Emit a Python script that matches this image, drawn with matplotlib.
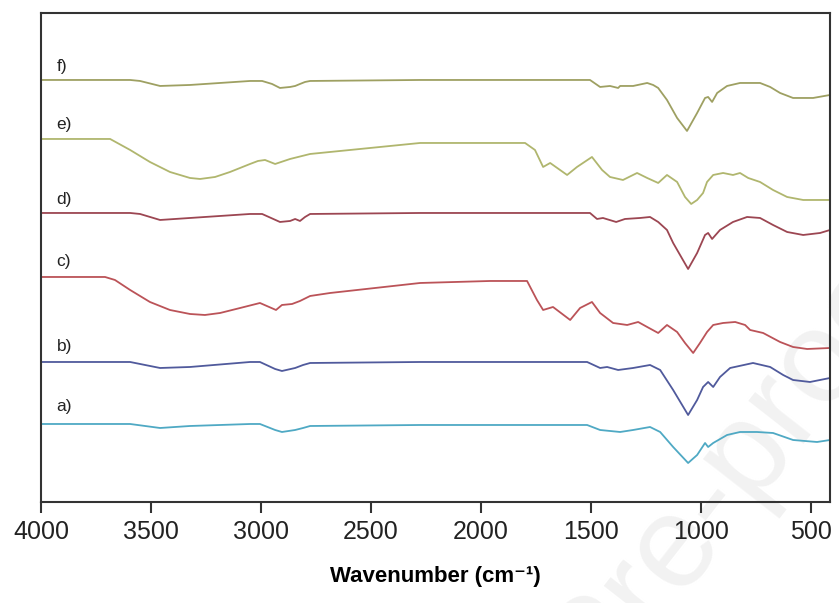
import numpy as np
import matplotlib.pyplot as plt

plt.rcParams['font.family'] = ['Liberation Sans', 'DejaVu Sans']

# offset FTIR spectra (arbitrary units)
wn_a = [4000, 3595, 3459, 3323, 3050, 3005, 2936, 2905, 2845, 2809, 2777, 2277, 1518, 1459, 1368,
        1309, 1232, 1186, 1127, 1059, 1018, 982, 968, 945, 882, 823, 746, 673, 582, 473, 414]
t_a = [78, 78, 74, 76, 78, 78, 72, 70, 72, 74, 76, 77, 77, 72, 70,
       72, 75, 70, 55, 39, 47, 59, 55, 59, 67, 70, 70, 69, 62, 60, 62]

wn_b = [4000, 3595, 3459, 3323, 3050, 3005, 2936, 2905, 2845, 2809, 2777, 2277, 1518, 1459, 1427, 1377,
        1309, 1232, 1186, 1127, 1059, 1018, 991, 968, 945, 914, 868, 764, 686, 627, 582, 505, 414]
t_b = [140, 140, 134, 135, 140, 140, 133, 131, 134, 137, 139, 140, 140, 134, 135, 132,
       134, 137, 132, 112, 87, 102, 115, 120, 115, 125, 134, 139, 135, 127, 122, 120, 124]

wn_c = [4000, 3709, 3664, 3595, 3505, 3414, 3323, 3255, 3186, 3095, 3005, 2932, 2905, 2859, 2823,
        2777, 2686, 2277, 1959, 1791, 1746, 1718, 1673, 1595, 1550, 1496, 1459, 1400, 1336, 1286,
        1245, 1195, 1155, 1109, 1073, 1036, 1005, 973, 945, 900, 845, 800, 777, 718, 641, 582, 518, 414]
t_c = [225, 225, 222, 212, 200, 192, 188, 187, 189, 194, 199, 192, 197, 198, 201,
       206, 209, 219, 221, 221, 202, 192, 195, 182, 194, 200, 189, 179, 177, 180,
       175, 169, 177, 170, 159, 149, 159, 170, 177, 179, 180, 177, 172, 169, 160, 155, 153, 154]

wn_d = [4000, 3595, 3550, 3459, 3323, 3050, 2995, 2914, 2868, 2845, 2823, 2800, 2777, 2277, 1505,
        1473, 1446, 1386, 1346, 1277, 1232, 1195, 1155, 1127, 1059, 1018, 982, 968, 950, 914,
        855, 791, 732, 673, 609, 536, 459, 414]
t_d = [289, 289, 288, 282, 284, 288, 288, 280, 281, 283, 281, 285, 288, 289, 289,
       283, 284, 280, 283, 284, 285, 280, 272, 259, 233, 249, 267, 269, 263, 272,
       280, 285, 284, 277, 270, 267, 269, 272]

wn_e = [4000, 3686, 3595, 3505, 3414, 3323, 3277, 3209, 3141, 3050, 3014, 2982, 2936, 2868, 2777,
        2277, 1959, 1800, 1755, 1718, 1686, 1609, 1564, 1496, 1450, 1414, 1355, 1291, 1245, 1195,
        1155, 1109, 1073, 1045, 1018, 991, 973, 945, 900, 855, 823, 786, 732, 673, 609, 536, 414]
t_e = [363, 363, 352, 340, 330, 324, 323, 325, 330, 338, 341, 342, 338, 343, 348,
       359, 359, 359, 352, 335, 339, 327, 335, 345, 332, 325, 322, 329, 324, 319,
       327, 320, 305, 298, 302, 309, 320, 327, 329, 327, 329, 324, 320, 312, 305, 302, 302]

wn_f = [4000, 3595, 3550, 3459, 3323, 3050, 2995, 2950, 2914, 2868, 2845, 2823, 2800, 2777, 2277,
        1505, 1459, 1414, 1377, 1368, 1309, 1245, 1218, 1195, 1155, 1109, 1064, 1018, 982, 968,
        950, 927, 882, 823, 732, 686, 641, 582, 491, 414]
t_f = [422, 422, 421, 416, 417, 421, 421, 418, 414, 415, 416, 418, 420, 421, 422,
       422, 415, 416, 414, 416, 416, 419, 417, 414, 402, 384, 371, 389, 404, 405,
       400, 409, 416, 419, 419, 415, 409, 404, 404, 407]

labels = ['a)', 'b)', 'c)', 'd)', 'e)', 'f)']
label_y = [95, 155, 240, 302, 377, 435]
colors = ['#4fa9c4', '#505a9c', '#bb5358', '#9c4652', '#b0b66e', '#9ea062']

fig = plt.figure(figsize=(8.39, 6.03), dpi=100)
ax = fig.add_axes([0.0489, 0.1675, 0.9404, 0.811])
ax.set_facecolor('none')

# faint watermark of the source picture
fig.text(0.88, 0.24, 'Pre-proof', fontsize=95, color='#f2f2f2', rotation=52,
         ha='center', va='center', zorder=-5)

series = [(wn_a, t_a), (wn_b, t_b), (wn_c, t_c), (wn_d, t_d), (wn_e, t_e), (wn_f, t_f)]
for (wn, t), c, lab, ly in zip(series, colors, labels, label_y):
    ax.plot(wn, t, color=c, lw=1.3)
    ax.text(3930, ly, lab, fontsize=12.5, color='#222222', ha='left', va='center')

ax.set_xlim(4000, 414)
ax.set_ylim(0, 489)
ax.set_xticks([4000, 3500, 3000, 2500, 2000, 1500, 1000, 500])
ax.set_yticks([])
ax.tick_params(axis='x', direction='out', length=8, width=1.5, labelsize=18,
               colors='#333333', labelcolor='#222222', pad=5)
for s in ax.spines.values():
    s.set_linewidth(1.5)
    s.set_color('#333333')
ax.set_xlabel('Wavenumber (cm\u207b\u00b9)', fontsize=16, fontweight='bold', labelpad=16)

fig.savefig('out.png', dpi=100)
